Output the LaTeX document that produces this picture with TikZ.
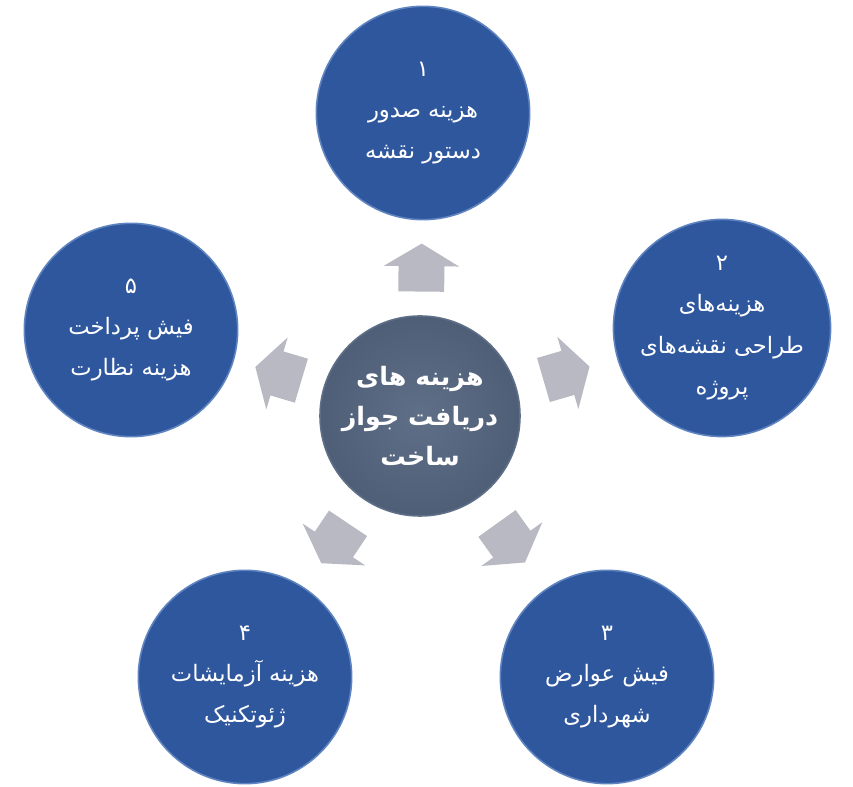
\documentclass[tikz,border=0pt]{standalone}
\usepackage{fontspec}
\newfontfamily\arabicfont[Script=Arabic]{DejaVu Sans}
\TeXXeTstate=1
\usetikzlibrary{shapes.arrows, positioning}

\definecolor{bubbleblue}{RGB}{46,87,158}
\definecolor{bubbledark}{RGB}{32,64,124}
\definecolor{bubblerim}{RGB}{96,132,192}
\definecolor{hubslate}{RGB}{96,111,136}
\definecolor{hubmid}{RGB}{76,91,116}
\definecolor{hubdark}{RGB}{50,62,84}
\definecolor{arrowgray}{RGB}{184,185,194}

\pgfdeclareradialshading{bubbleshade}{\pgfpointorigin}{color(0bp)=(bubbleblue); color(38bp)=(bubbleblue); color(50bp)=(bubbledark)}
\pgfdeclareradialshading{hubshade}{\pgfpointorigin}{color(0bp)=(hubslate); color(30bp)=(hubmid); color(50bp)=(hubdark)}

\begin{document}
\begin{tikzpicture}[x=0.75pt, y=0.75pt]

  % Define styles
  \tikzstyle{bubble} = [circle, minimum size=160pt, inner sep=0pt, shading=bubbleshade, draw=bubblerim, line width=1.2pt, text=white, align=center, font=\arabicfont\fontsize{17}{31}\selectfont]
  \tikzstyle{hubcircle} = [circle, minimum size=150pt, inner sep=0pt, shading=hubshade, draw=hubslate, line width=1.2pt, text=white, align=center, font=\arabicfont\bfseries\fontsize{19}{30}\selectfont]
  \tikzstyle{blockarrow} = [single arrow, fill=arrowgray, draw=none, inner xsep=0pt, inner ysep=17pt, single arrow head extend=11pt, single arrow tip angle=118, minimum height=36pt, minimum width=36pt, sloped, allow upside down, pos=0.43]

  \useasboundingbox (0,0) rectangle (853,787);

  % Place nodes
  \node [hubcircle] (hub) at (420,371) {\beginR هزینه های\endR\\\beginR دریافت جواز\endR\\\beginR ساخت\endR};
  \node [bubble] (n1) at (423,674) {۱\\\beginR هزینه صدور\endR\\\beginR دستور نقشه\endR};
  \node [bubble] (n2) at (722,459) {۲\\\beginR هزینه‌های\endR\\\beginR طراحی نقشه‌های\endR\\\beginR پروژه\endR};
  \node [bubble] (n3) at (607,110) {۳\\\beginR فیش عوارض\endR\\\beginR شهرداری\endR};
  \node [bubble] (n4) at (245,110) {۴\\\beginR هزینه آزمایشات\endR\\\beginR ژئوتکنیک\endR};
  \node [bubble] (n5) at (131,457) {۵\\\beginR فیش پرداخت\endR\\\beginR هزینه نظارت\endR};

  % Draw arrows
  \path (hub) -- node [blockarrow] (a1) {} (n1);
  \path (hub) -- node [blockarrow] (a2) {} (n2);
  \path (hub) -- node [blockarrow] (a3) {} (n3);
  \path (hub) -- node [blockarrow] (a4) {} (n4);
  \path (hub) -- node [blockarrow] (a5) {} (n5);

\end{tikzpicture}
\end{document}
